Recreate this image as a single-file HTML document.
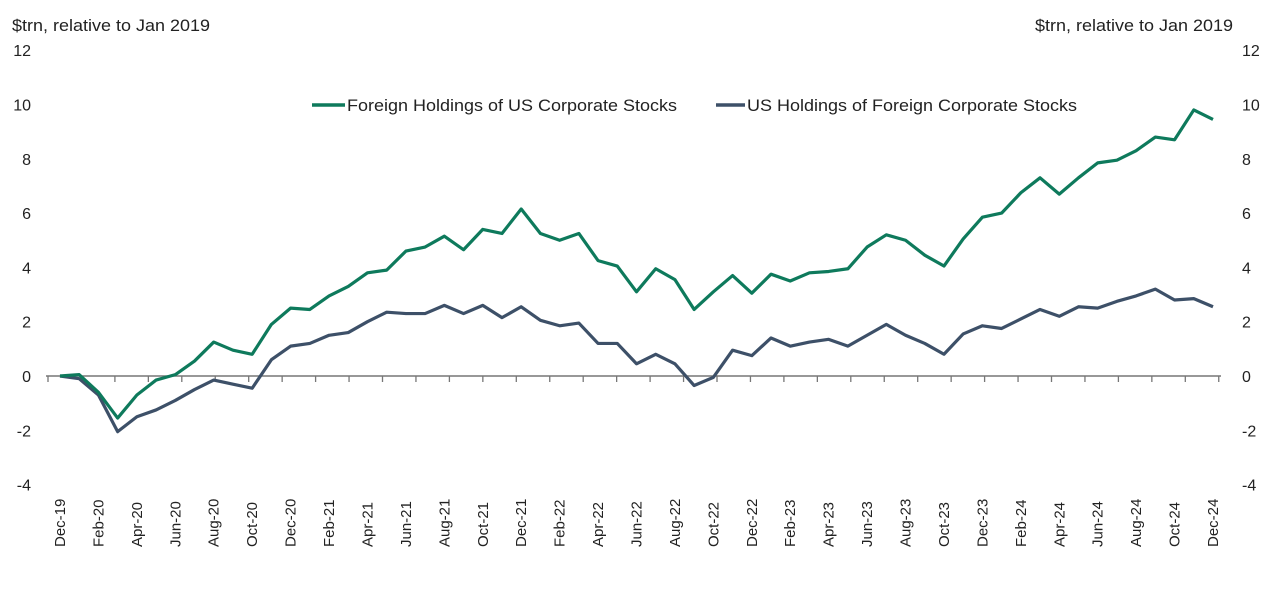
<!DOCTYPE html>
<html><head><meta charset="utf-8"><style>
body{margin:0;background:#fff;}
svg text{font-family:"Liberation Sans",sans-serif;fill:#222;}
</style></head><body>
<svg id="chart" width="1277" height="595">
<text x="12" y="31" font-size="17" textLength="198" lengthAdjust="spacingAndGlyphs">$trn, relative to Jan 2019</text>
<text x="1035" y="31" font-size="17" textLength="198" lengthAdjust="spacingAndGlyphs">$trn, relative to Jan 2019</text>
<g id="axes"></g>
<g id="lines"></g>
<g>
<line x1="312" y1="105" x2="345" y2="105" stroke="#0e7a5c" stroke-width="3.5"/>
<text x="347" y="111" font-size="17" textLength="330" lengthAdjust="spacingAndGlyphs">Foreign Holdings of US Corporate Stocks</text>
<line x1="716" y1="105" x2="745" y2="105" stroke="#3d5068" stroke-width="3.5"/>
<text x="747" y="111" font-size="17" textLength="330" lengthAdjust="spacingAndGlyphs">US Holdings of Foreign Corporate Stocks</text>
</g>
</svg>
<script>
const months = ["Dec-19","Jan-20","Feb-20","Mar-20","Apr-20","May-20","Jun-20","Jul-20","Aug-20","Sep-20","Oct-20","Nov-20","Dec-20","Jan-21","Feb-21","Mar-21","Apr-21","May-21","Jun-21","Jul-21","Aug-21","Sep-21","Oct-21","Nov-21","Dec-21","Jan-22","Feb-22","Mar-22","Apr-22","May-22","Jun-22","Jul-22","Aug-22","Sep-22","Oct-22","Nov-22","Dec-22","Jan-23","Feb-23","Mar-23","Apr-23","May-23","Jun-23","Jul-23","Aug-23","Sep-23","Oct-23","Nov-23","Dec-23","Jan-24","Feb-24","Mar-24","Apr-24","May-24","Jun-24","Jul-24","Aug-24","Sep-24","Oct-24","Nov-24","Dec-24"];
const foreignHoldings = [0,0.05,-0.6,-1.55,-0.7,-0.15,0.05,0.55,1.25,0.95,0.8,1.9,2.5,2.45,2.95,3.3,3.8,3.9,4.6,4.75,5.15,4.65,5.4,5.25,6.15,5.25,5.0,5.25,4.25,4.05,3.1,3.95,3.55,2.45,3.1,3.7,3.05,3.75,3.5,3.8,3.85,3.95,4.75,5.2,5.0,4.45,4.05,5.05,5.85,6.0,6.75,7.3,6.7,7.3,7.85,7.95,8.3,8.8,8.7,9.8,9.45];
const usHoldings = [0,-0.1,-0.7,-2.05,-1.5,-1.25,-0.9,-0.5,-0.15,-0.3,-0.45,0.6,1.1,1.2,1.5,1.6,2.0,2.35,2.3,2.3,2.6,2.3,2.6,2.15,2.55,2.05,1.85,1.95,1.2,1.2,0.45,0.8,0.45,-0.35,-0.05,0.95,0.75,1.4,1.1,1.25,1.35,1.1,1.5,1.9,1.5,1.2,0.8,1.55,1.85,1.75,2.1,2.45,2.2,2.55,2.5,2.75,2.95,3.2,2.8,2.85,2.55];
const yTicks = [12,10,8,6,4,2,0,-2,-4];
const NS="http://www.w3.org/2000/svg";
const xs = i => 60 + i*(1213-60)/(months.length-1);
const ys = v => 376 - v*27.15;
const ax=document.getElementById('axes'), ln=document.getElementById('lines');
function mk(tag,attrs,parent){const e=document.createElementNS(NS,tag);for(const k in attrs)e.setAttribute(k,attrs[k]);parent.appendChild(e);return e;}
yTicks.forEach(v=>{
  const t=mk('text',{x:31,y:ys(v)+6,'font-size':16,'text-anchor':'end'},ax);t.textContent=v;
  
  
  const r=mk('text',{x:1242,y:ys(v)+6,'font-size':16},ax);r.textContent=v;
  
  
});
const base=mk('line',{x1:46,y1:ys(0),x2:1221,y2:ys(0),stroke:'#777','stroke-width':1.5},ax);


for(let x=48;x<=1222;x+=33.45){const t=mk('line',{x1:x,y1:ys(0),x2:x,y2:ys(0)+6,stroke:'#777','stroke-width':1.3},ax);
  
  }
months.forEach((m,i)=>{ if(i%2) return;
  const x=xs(i)+5, y=547;
  const t=mk('text',{x:x,y:y,'font-size':15,transform:`rotate(-90 ${x} ${y})`},ax);t.textContent=m;
  
  
});
function line(data,color,name){
  const p=mk('polyline',{points:data.map((v,i)=>xs(i)+','+ys(v)).join(' '),fill:'none',stroke:color,'stroke-width':3.2,'stroke-linejoin':'round'},ln);
  
  
}
line(usHoldings,'#3d5068','us-holdings-line');
line(foreignHoldings,'#0e7a5c','foreign-holdings-line');
</script>
</body></html>
